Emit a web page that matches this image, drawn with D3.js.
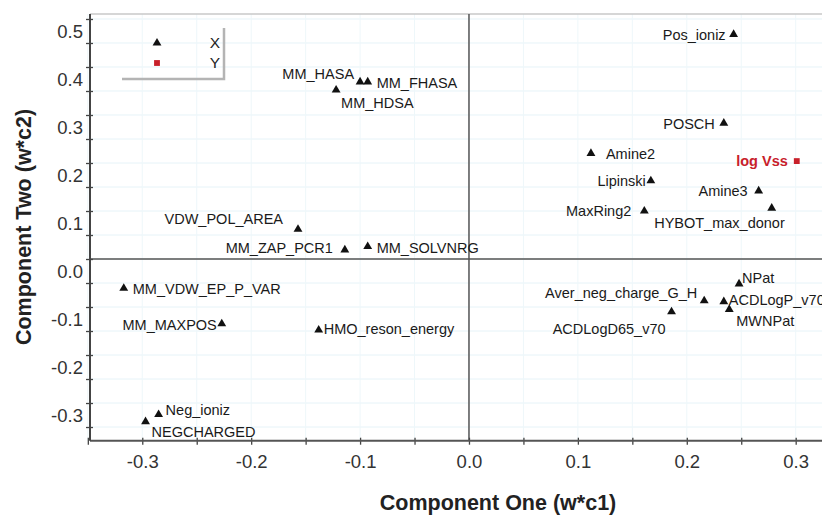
<!DOCTYPE html>
<html>
<head>
<meta charset="utf-8">
<script src="https://cdn.jsdelivr.net/npm/d3@7"></script>
<style>
  body { margin: 0; background: #fff; }
  svg { display: block; font-family: "Liberation Sans", Arial, sans-serif; }
</style>
</head>
<body>
<svg id="chart" width="822" height="516"></svg>
<script>
// variable names (loadings)
var names = ["MM_HASA", "MM_FHASA", "MM_HDSA", "VDW_POL_AREA", "MM_ZAP_PCR1", "MM_SOLVNRG",
  "Pos_ioniz", "POSCH", "Amine2", "log Vss", "Lipinski", "Amine3", "MaxRing2", "HYBOT_max_donor",
  "MM_VDW_EP_P_VAR", "MM_MAXPOS", "Neg_ioniz", "NEGCHARGED", "HMO_reson_energy",
  "NPat", "Aver_neg_charge_G_H", "ACDLogP_v70", "MWNPat", "ACDLogD65_v70"]
// w*c1
var comp1 = [-0.100, -0.093, -0.122, -0.157, -0.114, -0.093,
  0.243, 0.234, 0.112, 0.301, 0.167, 0.266, 0.161, 0.278,
  -0.317, -0.227, -0.285, -0.297, -0.138,
  0.248, 0.216, 0.234, 0.239, 0.186]
// w*c2
var comp2 = [0.369, 0.369, 0.352, 0.062, 0.019, 0.026,
  0.468, 0.283, 0.220, 0.204, 0.163, 0.142, 0.100, 0.106,
  -0.061, -0.135, -0.324, -0.339, -0.148,
  -0.052, -0.087, -0.089, -0.105, -0.110]
// block each variable belongs to
var block = ["X", "X", "X", "X", "X", "X",
  "X", "X", "X", "Y", "X", "X", "X", "X",
  "X", "X", "X", "X", "X",
  "X", "X", "X", "X", "X"]
var legendNames = ["X", "Y"]
var xTicks = [-0.3, -0.2, -0.1, 0.0, 0.1, 0.2, 0.3]
var yTicks = [-0.3, -0.2, -0.1, 0.0, 0.1, 0.2, 0.3, 0.4, 0.5]
var xDomain = [-0.348, 0.326]
var yDomain = [-0.3785, 0.5104]

// where each label sits relative to its marker
var labelPlace = {
  "MM_HASA": [-6, -8, "end"], "MM_FHASA": [9, 1, "start"], "MM_HDSA": [5, 13, "start"],
  "VDW_POL_AREA": [-15, -10, "end"], "MM_ZAP_PCR1": [-12, -2, "end"], "MM_SOLVNRG": [9, 1, "start"],
  "Pos_ioniz": [-8, 1, "end"], "POSCH": [-9, 1, "end"], "Amine2": [15, 1, "start"],
  "log Vss": [-9, 0, "end"], "Lipinski": [-5, 0, "end"], "Amine3": [-11, 0, "end"],
  "MaxRing2": [-13, 0, "end"], "HYBOT_max_donor": [13, 15, "end"],
  "MM_VDW_EP_P_VAR": [9, 1, "start"], "MM_MAXPOS": [-5, 1, "end"], "Neg_ioniz": [7, -5, "start"],
  "NEGCHARGED": [6, 10, "start"], "HMO_reson_energy": [5, -1, "start"], "NPat": [3, -6, "start"],
  "Aver_neg_charge_G_H": [-7, -8, "end"], "ACDLogP_v70": [5, -2, "start"], "MWNPat": [7, 12, "start"],
  "ACDLogD65_v70": [-6, 17, "end"]
}

var red = "#c8202a"
var plotL = 90, plotR = 824, plotT = 14, plotB = 440.7

var svg = d3.select("#chart")

var x = d3.scaleLinear().domain(xDomain).range([plotL, plotR])
var y = d3.scaleLinear().domain(yDomain).range([plotB, plotT])

var minorX = d3.range(-7, 7).map(function (d) { return d * 0.05 })
var minorY = d3.range(-7, 11).map(function (d) { return d * 0.05 })

// faint grid
var grid = svg.append("g")
grid.selectAll(".gy").data(minorY).enter().append("line")
  .attr("x1", plotL).attr("x2", plotR)
  .attr("y1", function (d) { return y(d) }).attr("y2", function (d) { return y(d) })
  .style("stroke", "#e6f3f8").style("stroke-width", 1)
grid.selectAll(".gx").data(minorX).enter().append("line")
  .attr("y1", plotT).attr("y2", plotB)
  .attr("x1", function (d) { return x(d) }).attr("x2", function (d) { return x(d) })
  .style("stroke", "#eef7fa").style("stroke-width", 1)

// top frame
svg.append("line").attr("x1", plotL).attr("x2", plotR).attr("y1", plotT).attr("y2", plotT)
  .style("stroke", "#c8c8c8").style("stroke-width", 1.5)

// zero lines
svg.append("line").attr("x1", plotL).attr("x2", plotR).attr("y1", y(0)).attr("y2", y(0))
  .style("stroke", "#555").style("stroke-width", 1.5)
svg.append("line").attr("x1", x(0)).attr("x2", x(0)).attr("y1", plotT).attr("y2", plotB)
  .style("stroke", "#555").style("stroke-width", 1.5)

// x axis
var xMinor = svg.append("g").attr("transform", "translate(0," + plotB + ")")
  .call(d3.axisBottom(x).tickValues(minorX).tickSizeOuter(0).tickFormat(""))
xMinor.select(".domain").remove()
xMinor.selectAll(".tick line").attr("y1", -3).attr("y2", 4).style("stroke", "#444").style("stroke-width", 1.3)

var xAxis = svg.append("g").attr("transform", "translate(0," + plotB + ")")
  .call(d3.axisBottom(x).tickValues(xTicks).tickSize(0).tickFormat(function (d) { return d.toFixed(1) }))
xAxis.select(".domain").remove()
xAxis.selectAll("text").attr("y", 21).attr("dy", "0.35em")
  .style("font-size", "18.5px").style("font-family", "Liberation Sans, Arial, sans-serif").style("fill", "#333")
svg.append("line").attr("x1", plotL).attr("x2", plotR).attr("y1", plotB).attr("y2", plotB)
  .style("stroke", "#555").style("stroke-width", 2)

// y axis
var yMinor = svg.append("g").attr("transform", "translate(" + plotL + ",0)")
  .call(d3.axisLeft(y).tickValues(minorY).tickSizeOuter(0).tickFormat(""))
yMinor.select(".domain").remove()
yMinor.selectAll(".tick line").attr("x1", -4).attr("x2", 3).style("stroke", "#444").style("stroke-width", 1.3)

var yAxis = svg.append("g").attr("transform", "translate(" + plotL + ",0)")
  .call(d3.axisLeft(y).tickValues(yTicks).tickSize(0).tickFormat(function (d) { return d.toFixed(1) }))
yAxis.select(".domain").remove()
yAxis.selectAll("text").attr("x", -7).attr("y", 12).attr("dy", "0.35em")
  .style("font-size", "18.5px").style("font-family", "Liberation Sans, Arial, sans-serif").style("fill", "#333")
svg.append("line").attr("x1", plotL).attr("x2", plotL).attr("y1", plotT).attr("y2", plotB)
  .style("stroke", "#444").style("stroke-width", 2)

// axis titles
svg.append("text").attr("x", 498).attr("y", 502).attr("dy", "0.35em")
  .attr("text-anchor", "middle")
  .style("font-size", "21.5px").style("font-weight", "bold").style("fill", "#222")
  .text("Component One (w*c1)")
svg.append("text").attr("transform", "translate(23,227) rotate(-90)").attr("dy", "0.35em")
  .attr("text-anchor", "middle")
  .style("font-size", "21.5px").style("font-weight", "bold").style("fill", "#222")
  .text("Component Two (w*c2)")

// points
var data = names.map(function (n, i) {
  return { name: n, c1: comp1[i], c2: comp2[i], block: block[i] }
})

var tri = d3.symbol().type(d3.symbolTriangle).size(34)
var sq = d3.symbol().type(d3.symbolSquare).size(34)

var pts = svg.append("g").selectAll(".pt").data(data).enter().append("g")
  .attr("transform", function (d) { return "translate(" + x(d.c1) + "," + y(d.c2) + ")" })

pts.append("path")
  .attr("d", function (d) { return d.block == "Y" ? sq() : tri() })
  .style("fill", function (d) { return d.block == "Y" ? red : "#111" })

pts.append("text")
  .attr("x", function (d) { return labelPlace[d.name][0] })
  .attr("y", function (d) { return labelPlace[d.name][1] })
  .attr("dy", "0.35em")
  .attr("text-anchor", function (d) { return labelPlace[d.name][2] })
  .style("font-size", "14.5px")
  .style("font-weight", function (d) { return d.block == "Y" ? "bold" : "normal" })
  .style("fill", function (d) { return d.block == "Y" ? red : "#1a1a1a" })
  .text(function (d) { return d.name })

// legend
var legend = svg.append("g")
legend.append("path").attr("d", "M122,79 H224 V28")
  .style("fill", "none").style("stroke", "#b4b4b4").style("stroke-width", 2.5)
var items = legend.selectAll(".li").data(legendNames).enter().append("g")
  .attr("transform", function (d, i) { return "translate(0," + (43 + i * 20) + ")" })
items.append("path").attr("transform", "translate(157,0)")
  .attr("d", function (d) { return d == "Y" ? sq() : tri() })
  .style("fill", function (d) { return d == "Y" ? red : "#111" })
items.append("text").attr("x", 215).attr("dy", "0.35em").attr("text-anchor", "middle")
  .style("font-size", "15.5px").style("fill", "#222")
  .text(function (d) { return d })
</script>
</body>
</html>
